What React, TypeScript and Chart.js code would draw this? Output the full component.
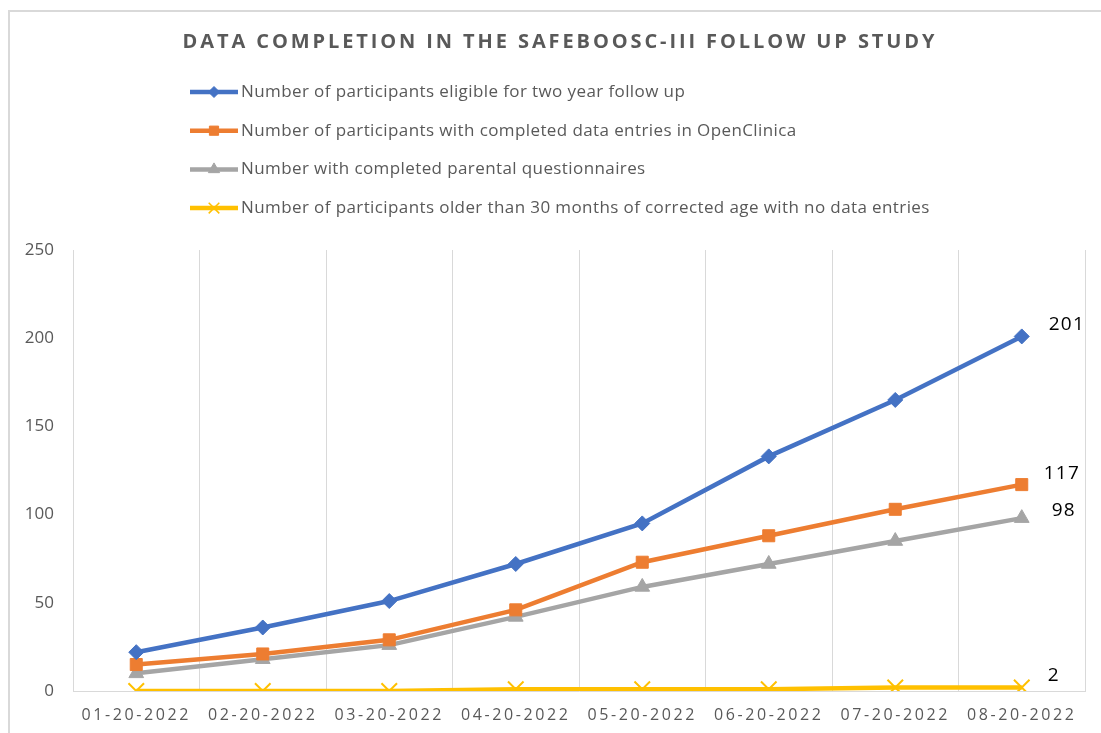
import React, { useEffect, useRef } from "react";
import { Chart, registerables } from "chart.js";
import { drawPoint } from "chart.js/helpers";

Chart.register(...registerables);

const TITLE = "DATA COMPLETION IN THE SAFEBOOSC-III FOLLOW UP STUDY";
const CATEGORIES = [
  "01-20-2022",
  "02-20-2022",
  "03-20-2022",
  "04-20-2022",
  "05-20-2022",
  "06-20-2022",
  "07-20-2022",
  "08-20-2022",
];
const SERIES_NAMES = [
  "Number of participants eligible for two year follow up",
  "Number of participants with completed data entries in OpenClinica",
  "Number with completed parental questionnaires",
  "Number of participants older than 30 months of corrected age with no data entries",
];
const ELIGIBLE = [22, 36, 51, 72, 95, 133, 165, 201];
const COMPLETED_ENTRIES = [15, 21, 29, 46, 73, 88, 103, 117];
const PARENTAL_QUESTIONNAIRES = [10, 18, 26, 42, 59, 72, 85, 98];
const OLDER_NO_ENTRIES = [0, 0, 0, 1, 1, 1, 2, 2];
const Y_MIN = 0;
const Y_MAX = 250;
const Y_STEP = 50;

const COLORS = ["#4472C4", "#ED7D31", "#A5A5A5", "#FFC000"];
const POINT_STYLES = ["rectRot", "rect", "triangle", "crossRot"];
const POINT_RADII = [7.5, 8.5, 8.5, 11];
const LEGEND_RADII = [5.5, 6.5, 6.5, 7.5];
const LABEL_OFFSETS = [
  [27, -12],
  [22, -11],
  [30, -8],
  [26, -12],
];

const GREY_TEXT = "#595959";

const decorPlugin = {
  id: "decor",
  beforeDraw(chart: any) {
    const { ctx, width, height } = chart;
    ctx.save();
    ctx.fillStyle = "#ffffff";
    ctx.fillRect(0, 0, width, height);
    ctx.strokeStyle = "#d9d9d9";
    ctx.lineWidth = 2;
    ctx.beginPath();
    ctx.moveTo(9, height);
    ctx.lineTo(9, 11);
    ctx.lineTo(width, 11);
    ctx.stroke();
    ctx.restore();

    // letter-spaced x tick labels
    const xs = chart.scales.x;
    if (xs && !xs.__spaced) {
      const orig = xs.drawLabels.bind(xs);
      xs.drawLabels = (area: any) => {
        const c = xs.ctx;
        c.save();
        (c as any).letterSpacing = "2.6px";
        orig(area);
        c.restore();
      };
      xs.__spaced = true;
    }
  },
  afterDraw(chart: any) {
    const { ctx } = chart;
    ctx.save();
    // Title
    ctx.fillStyle = GREY_TEXT;
    ctx.font = 'bold 20px "Open Sans"';
    (ctx as any).letterSpacing = "2.9px";
    ctx.textAlign = "center";
    ctx.textBaseline = "middle";
    ctx.fillText(TITLE, 560, 42);

    // Legend
    (ctx as any).letterSpacing = "0.4px";
    ctx.font = '17px "Open Sans"';
    ctx.textAlign = "left";
    chart.data.datasets.forEach((ds: any, i: number) => {
      const y = 92 + i * 38.7;
      ctx.strokeStyle = COLORS[i];
      ctx.lineWidth = 4.5;
      ctx.lineCap = "butt";
      ctx.beginPath();
      ctx.moveTo(190, y);
      ctx.lineTo(238, y);
      ctx.stroke();
      ctx.fillStyle = COLORS[i];
      ctx.strokeStyle = COLORS[i];
      ctx.lineWidth = POINT_STYLES[i] === "crossRot" ? 1.5 : 1;
      drawPoint(
        ctx,
        { pointStyle: POINT_STYLES[i], radius: LEGEND_RADII[i], rotation: 0, borderWidth: ctx.lineWidth } as any,
        214,
        y
      );
      ctx.fillStyle = GREY_TEXT;
      ctx.fillText(ds.label, 241, y);
    });

    // Data labels on last points
    ctx.font = '19px "Open Sans"';
    (ctx as any).letterSpacing = "1.2px";
    ctx.fillStyle = "#000000";
    ctx.textAlign = "left";
    ctx.textBaseline = "middle";
    chart.data.datasets.forEach((ds: any, i: number) => {
      const meta = chart.getDatasetMeta(i);
      const last = meta.data[meta.data.length - 1];
      if (!last) return;
      const v = ds.data[ds.data.length - 1];
      ctx.fillText(String(v), last.x + LABEL_OFFSETS[i][0], last.y + LABEL_OFFSETS[i][1]);
    });
    ctx.restore();
  },
};

export default function App() {
  const canvasRef = useRef<HTMLCanvasElement | null>(null);

  useEffect(() => {
    if (!canvasRef.current) return;
    const seriesData = [ELIGIBLE, COMPLETED_ENTRIES, PARENTAL_QUESTIONNAIRES, OLDER_NO_ENTRIES];
    const chart = new Chart(canvasRef.current, {
      type: "line",
      data: {
        labels: CATEGORIES,
        datasets: seriesData.map((d, i) => ({
          label: SERIES_NAMES[i],
          data: d,
          borderColor: COLORS[i],
          backgroundColor: COLORS[i],
          borderWidth: 4.5,
          pointStyle: POINT_STYLES[i] as any,
          pointRadius: POINT_RADII[i],
          pointBackgroundColor: COLORS[i],
          pointBorderColor: COLORS[i],
          pointBorderWidth: POINT_STYLES[i] === "crossRot" ? 2 : 1,
          tension: 0,
          fill: false,
        })),
      },
      options: {
        animation: false,
        responsive: true,
        maintainAspectRatio: false,
        layout: { padding: { top: 250, left: 0, right: 16, bottom: 0 } },
        plugins: {
          legend: { display: false },
          title: { display: false },
          tooltip: { enabled: false },
        },
        scales: {
          x: {
            offset: true,
            grid: { display: true, offset: true, color: "#d9d9d9", lineWidth: 1, drawTicks: false },
            border: { display: true, color: "#d9d9d9", width: 1 },
            ticks: {
              color: GREY_TEXT,
              font: { family: "Open Sans", size: 16 },
              padding: 15,
              autoSkip: false,
              maxRotation: 0,
              minRotation: 0,
            },
            afterFit: (s: any) => {
              s.height = 42;
            },
          },
          y: {
            min: Y_MIN,
            max: Y_MAX,
            grid: { display: false, drawTicks: false },
            border: { display: false },
            ticks: {
              stepSize: Y_STEP,
              color: GREY_TEXT,
              font: { family: "Open Sans", size: 17 },
              padding: 19,
            },
            afterFit: (s: any) => {
              s.width = 73;
            },
          },
        },
      },
      plugins: [decorPlugin],
    });
    return () => chart.destroy();
  }, []);

  return (
    <div style={{ position: "absolute", left: 0, top: 0, width: 1101, height: 733, background: "#fff" }}>
      <canvas ref={canvasRef} />
    </div>
  );
}
